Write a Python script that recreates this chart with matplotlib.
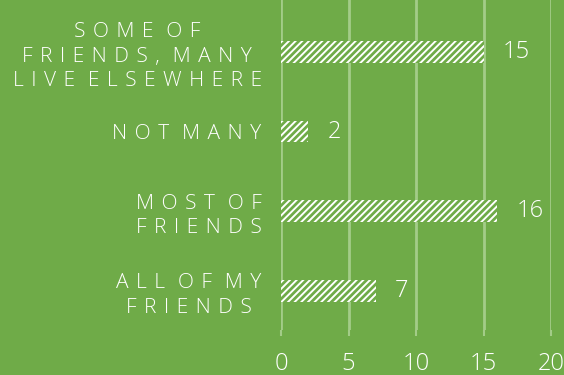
import matplotlib
matplotlib.use("Agg")
import matplotlib.pyplot as plt

categories = ["All of my\nfriends", "Most of\nfriends", "Not many",
              "Some of\nfriends, many\nlive elsewhere"]
values = [7, 16, 2, 15]
xticks = [0, 5, 10, 15, 20]

bg = "#6FAB48"
grid_col = "#A3CC88"

plt.rcParams['font.family'] = ['Open Sans', 'DejaVu Sans']
plt.rcParams['hatch.linewidth'] = 2.0


def spaced(text):
    # wide letter spacing, words kept apart by a bigger gap
    gap = " \u200a"
    lines = []
    for line in text.upper().split("\n"):
        lines.append((gap + " ").join(gap.join(w) for w in line.split(" ")))
    return "\n".join(lines)


fig = plt.figure(figsize=(5.64, 3.75), dpi=100, facecolor=bg)
ax = fig.add_axes([281 / 564, 45 / 375, 270 / 564, 330 / 375])
ax.set_facecolor(bg)

pos = list(range(len(values)))
ax.barh(pos, values, height=0.27, color="white", edgecolor=bg,
        hatch="/////", linewidth=0, zorder=3)

for y, v in zip(pos, values):
    ax.annotate(str(v), (v, y), xytext=(14, 0), textcoords="offset points",
                va="center", ha="left", color="white", fontsize=17,
                fontweight=300)

ax.set_xlim(0, 20)
ax.set_ylim(-0.49, 3.65)
ax.set_xticks(xticks)
ax.set_xticklabels([str(t) for t in xticks], fontsize=17, color="white",
                   fontweight=300)
ax.tick_params(axis="x", length=4, width=1.5, color=grid_col, pad=12,
               direction="out")
ax.xaxis.grid(True, color=grid_col, linewidth=2)
ax.set_axisbelow(True)

ax.set_yticks(pos)
ax.set_yticklabels([spaced(c) for c in categories], fontsize=15,
                   color="white", linespacing=1.3, fontweight=300)
for lbl in ax.get_yticklabels():
    lbl.set_multialignment("center")
ax.tick_params(axis="y", length=0, pad=14)

for s in ax.spines.values():
    s.set_visible(False)

fig.savefig("out.png", dpi=100, facecolor=bg)
